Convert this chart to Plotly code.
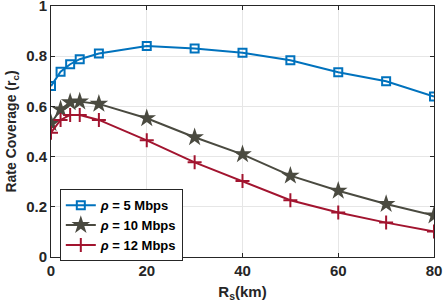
import plotly.graph_objects as go

rs_km = [0, 2, 4, 6, 10, 20, 30, 40, 50, 60, 70, 80]
rate_5 = [0.681, 0.738, 0.768, 0.788, 0.811, 0.841, 0.831, 0.814, 0.784, 0.736, 0.700, 0.639]
rate_10 = [0.533, 0.588, 0.616, 0.619, 0.610, 0.553, 0.477, 0.409, 0.324, 0.264, 0.211, 0.165]
rate_12 = [0.495, 0.546, 0.566, 0.566, 0.546, 0.465, 0.377, 0.303, 0.226, 0.177, 0.137, 0.102]
names = ["<i>ρ</i> = 5 Mbps", "<i>ρ</i> = 10 Mbps", "<i>ρ</i> = 12 Mbps"]
x_ticks = [0, 20, 40, 60, 80]
y_ticks = [0, 0.2, 0.4, 0.6, 0.8, 1]

FONT = "Liberation Sans, Arial, sans-serif"
fig = go.Figure()
fig.add_trace(go.Scatter(x=rs_km, y=rate_5, name=names[0], mode="lines+markers",
                         line=dict(color="#0072BD", width=2),
                         marker=dict(symbol="square-open", size=8, color="#0072BD", line=dict(width=2))))
fig.add_trace(go.Scatter(x=rs_km, y=rate_10, name=names[1], mode="lines+markers",
                         line=dict(color="#4a4a40", width=2),
                         marker=dict(symbol="star", size=14, color="#4a4a40")))
fig.add_trace(go.Scatter(x=rs_km, y=rate_12, name=names[2], mode="lines+markers",
                         line=dict(color="#A2142F", width=2),
                         marker=dict(symbol="cross-thin-open", size=10, color="#A2142F", line=dict(width=2, color="#A2142F"))))

axis_common = dict(showline=True, linecolor="#262626", linewidth=1, mirror="ticks",
                   ticks="inside", ticklen=4, tickcolor="#262626", automargin=False,
                   ticklabeloverflow="allow",
                   showgrid=True, gridcolor="#e6e6e6", gridwidth=1, zeroline=False,
                   tickfont=dict(family=FONT, size=15, color="#262626", weight="bold"))
fig.update_xaxes(range=[0, 80], tickvals=x_ticks,
                 title=dict(text="R<sub>s</sub>(km)", font=dict(family=FONT, size=15, color="#262626", weight="bold"), standoff=8),
                 **axis_common)
fig.update_yaxes(range=[0, 1], tickvals=y_ticks, ticktext=["0", "0.2", "0.4", "0.6", "0.8", "1"],
                 title=dict(text="Rate Coverage (r<sub>c</sub>)", font=dict(family=FONT, size=14, color="#262626", weight="bold"), standoff=6),
                 **axis_common)
fig.update_layout(width=443, height=308, margin=dict(l=51, r=9, t=6, b=51),
                  plot_bgcolor="white", paper_bgcolor="white",
                  legend=dict(x=0.023, y=0.27, xanchor="left", yanchor="top",
                              bgcolor="white", bordercolor="#262626", borderwidth=1,
                              font=dict(family=FONT, size=13, color="#000000", weight="bold"),
                              tracegroupgap=0, itemwidth=30))
fig.write_html("out.html", config={"displayModeBar": False},
               post_script="document.body.style.margin='0';document.body.style.padding='0';")
